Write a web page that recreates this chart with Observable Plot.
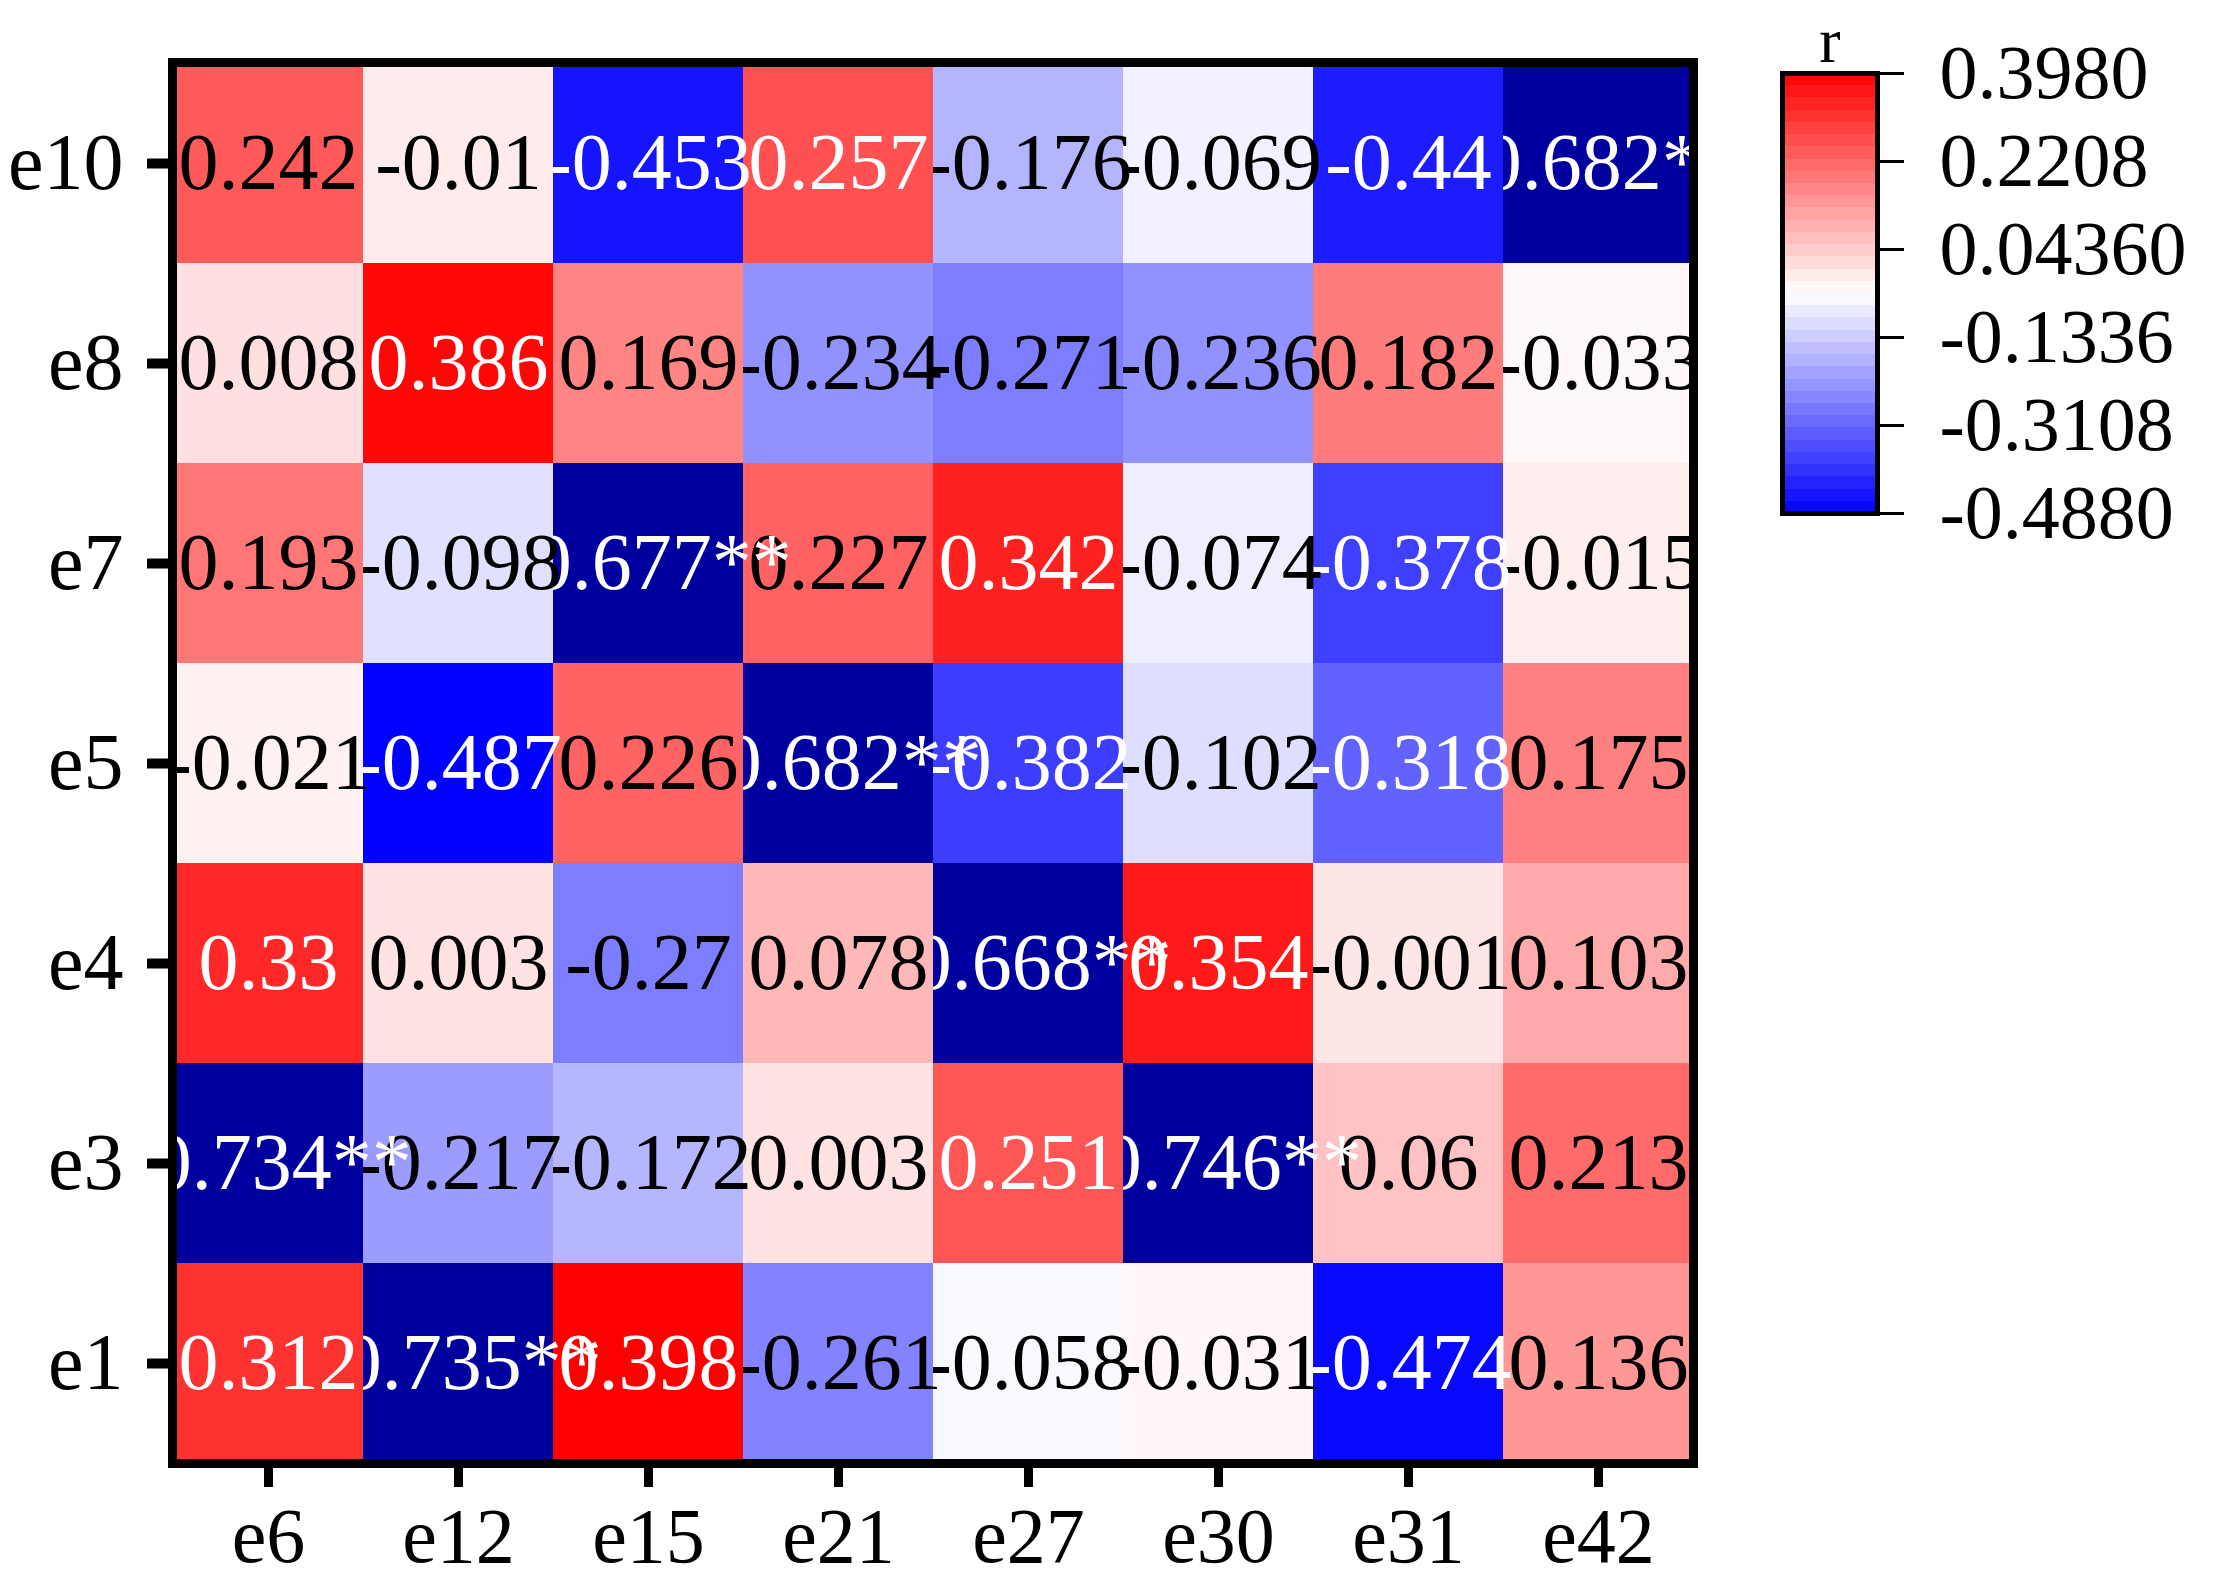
<!DOCTYPE html>
<html><head><meta charset="utf-8">
<script src="https://cdn.jsdelivr.net/npm/d3@7"></script>
<script src="https://cdn.jsdelivr.net/npm/@observablehq/plot@0.6"></script>
<style>
html,body{margin:0;padding:0;background:#fff;}
#wrap{position:relative;width:2217px;height:1581px;overflow:hidden;background:#fff;}
#wrap svg{position:absolute;overflow:visible;}
</style></head><body><div id="wrap"></div>
<script>
// ---- data ----
const cols = ["e6","e12","e15","e21","e27","e30","e31","e42"];
const rows = ["e10","e8","e7","e5","e4","e3","e1"]; // top to bottom
const r_e10 = [0.242, -0.01, -0.453, 0.257, -0.176, -0.069, -0.44, -0.682];
const r_e8  = [0.008, 0.386, 0.169, -0.234, -0.271, -0.236, 0.182, -0.033];
const r_e7  = [0.193, -0.098, -0.677, 0.227, 0.342, -0.074, -0.378, -0.015];
const r_e5  = [-0.021, -0.487, 0.226, -0.682, -0.382, -0.102, -0.318, 0.175];
const r_e4  = [0.33, 0.003, -0.27, 0.078, -0.668, 0.354, -0.001, 0.103];
const r_e3  = [-0.734, -0.217, -0.172, 0.003, 0.251, -0.746, 0.06, 0.213];
const r_e1  = [0.312, -0.735, 0.398, -0.261, -0.058, -0.031, -0.474, 0.136];
const sigCells = ["e10/e42","e7/e15","e5/e21","e4/e27","e3/e6","e3/e30","e1/e12"]; // marked **
const legendTicks = [0.398, 0.2208, 0.0436, -0.1336, -0.3108, -0.488];
const legendTickLabels = ["0.3980","0.2208","0.04360","-0.1336","-0.3108","-0.4880"];
const legendTitle = "r";

// ---- build table ----
const rowValues = [r_e10, r_e8, r_e7, r_e5, r_e4, r_e3, r_e1];
const cells = [];
rows.forEach((r, i) => rowValues[i].forEach((v, j) => cells.push({row: r, col: cols[j], v, sig: sigCells.includes(r + "/" + cols[j])})));

const vmin = legendTicks[legendTicks.length - 1], vmax = legendTicks[0];
const vmid = (vmin + vmax) / 2;
const colorScale = {
  type: "linear",
  domain: [-1, vmin - 0.0001, vmin, vmid, vmax],
  range: ["#00009f", "#00009f", "#0000ff", "#ffffff", "#ff0000"],
  interpolate: d3.interpolateRgb
};
const font = "'Liberation Serif','Times New Roman',serif";

const marks = [];
for (const c of [...cols].reverse()) {
  const sub = cells.filter(d => d.col === c);
  marks.push(Plot.cell(sub, {x: "col", y: "row", fill: "v", inset: 0, shapeRendering: "crispEdges"}));
  marks.push(Plot.text(sub, {
    x: "col", y: "row",
    text: d => String(d.v) + (d.sig ? "**" : ""),
    fill: d => (d.v >= 0.25 || d.v <= -0.3) ? "white" : "black",
    fontSize: 80, clip: true
  }));
}

const main = Plot.plot({
  width: 2217, height: 1581,
  marginLeft: 172, marginRight: 524, marginTop: 62, marginBottom: 118,
  x: {domain: cols, padding: 0, label: null},
  y: {domain: rows, padding: 0, label: null},
  color: colorScale,
  style: {fontFamily: font, fontSize: "80px", color: "black", background: "transparent"},
  marks: [
    ...marks,
    Plot.frame({stroke: "black", strokeWidth: 9}),
    Plot.axisX({anchor: "bottom", tickSize: 24, tickPadding: 19, strokeWidth: 9, fontSize: 78, label: null}),
    Plot.axisY({anchor: "left", tickSize: 25, tickPadding: 24, strokeWidth: 10, fontSize: 80, label: null})
  ]
});
main.style.left = "0px"; main.style.top = "0px";

const nb = 36;
const step = (vmax - vmin) / nb;
const bands = d3.range(nb).map(i => ({lo: vmin + i * step, hi: vmin + (i + 1) * step, mid: vmin + (i + 0.5) * step}));
const labelMap = new Map(legendTicks.map((t, i) => [t, legendTickLabels[i]]));

const legend = Plot.plot({
  width: 517, height: 560,
  marginLeft: 82, marginRight: 340, marginTop: 73, marginBottom: 47,
  x: {domain: [0, 1], axis: null},
  y: {domain: [vmin, vmax], axis: null},
  color: colorScale,
  style: {fontFamily: font, fontSize: "76px", color: "black", background: "transparent", overflow: "visible"},
  marks: [
    Plot.rect(bands, {x1: 0, x2: 1, y1: "lo", y2: "hi", fill: "mid", shapeRendering: "crispEdges"}),
    Plot.frame({stroke: "black", strokeWidth: 5}),
    Plot.axisY(legendTicks, {anchor: "right", tickSize: 26, tickPadding: 36, strokeWidth: 3, tickFormat: d => labelMap.get(d), fontSize: 76, label: null}),
    Plot.text([legendTitle], {frameAnchor: "top", lineAnchor: "bottom", dy: -12, fontSize: 64})
  ]
});
legend.style.left = "1700px"; legend.style.top = "0px";

const wrap = document.getElementById("wrap");
wrap.appendChild(main);
wrap.appendChild(legend);
</script>
</body></html>
